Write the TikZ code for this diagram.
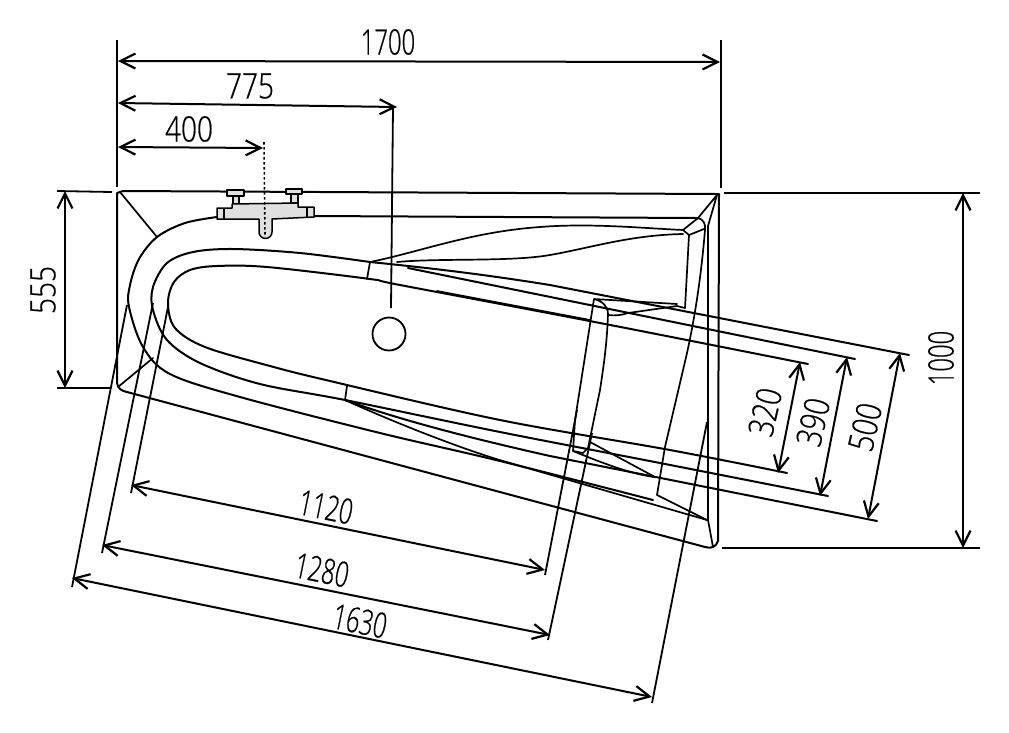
\documentclass[tikz,border=0pt]{standalone}
\usepackage{fontspec}
\usetikzlibrary{arrows.meta}
\newfontfamily\dimfont[FakeStretch=0.68,FakeBold=0.6]{Open Sans Light}
\newfontfamily\dimwide[FakeStretch=0.8,FakeBold=0.6]{Open Sans Light}
\tikzset{
	tub/.style={line width=1.7pt,line join=round,line cap=round},
	rimline/.style={tub,line width=2pt},
	extline/.style={line width=1.8pt},
	dimline/.style={line width=2pt,{Straight Barb[length=15pt,width=15pt,line width=2.2pt]}-{Straight Barb[length=15pt,width=15pt,line width=2.2pt]}},
	dimlabel/.style={inner sep=0pt,font=\dimfont\fontsize{35}{35}\selectfont},
	widelabel/.style={inner sep=0pt,font=\dimwide\fontsize{35}{35}\selectfont}
}
\begin{document}
\begin{tikzpicture}[x=1pt,y=-1pt]
	\useasboundingbox (0,0) rectangle (1009,732);
	% outline
	\draw[rimline] (117,193) -- (117,383) .. controls (118,389) and (122,391) .. (127,392) -- (705,547) .. controls (711,549) and (716,547) .. (718,541) -- (719,194) -- (716,194) -- (123,191) -- (117,193);
	\draw[tub] (120,192) -- (157,237);
	\draw[tub] (118,387) -- (153,358);
	% rim and basin
	\draw[rimline] plot[smooth,tension=0.55] coordinates {(217,217) (185,223) (157,237) (139,259) (130,285) (129,307) (143,347) (170,374) (240,397) (380,433) (500,461) (653,500)};
	\draw[rimline] (314,216) -- (697,218);
	\draw[rimline] plot[smooth,tension=0.55] coordinates {(370,262) (300,253) (233,249) (193,252) (167,263) (153,287) (153,310) (167,340) (200,363) (260,384) (345,400) (500,432) (660,463) (828,496)};
	\draw[rimline] plot[smooth,tension=0.55] coordinates {(808,364) (600,323) (400,285) (370,279) (267,267) (217,266) (190,270) (174,282) (168,303) (175,328) (205,347) (270,366) (330,381) (500,420) (670,450) (787,473)};
	\draw[tub] (370,262) -- (367,279);
	\draw[tub] (347,386) -- (345,400);
	\draw[rimline] (370,262) .. controls (450,270) and (500,277) .. (550,285) -- (909,355);
	\draw[rimline] (408,268) -- (855,359);
	\draw[tub] (437,291) -- (590,320);
	% upper end
	\draw[tub] (370,262) .. controls (420,252) and (470,232) .. (540,227) .. controls (590,223) and (640,228) .. (683,230);
	\draw[tub] (397,262) .. controls (440,258) and (510,262) .. (550,255) .. controls (590,248) and (630,235) .. (683,234);
	\draw[tub] (683,230) -- (698,218) .. controls (703,219) and (706,224) .. (705,230) .. controls (700,290) and (692,330) .. (687,353) -- (665,447) -- (657,495) -- (707,520);
	\draw[tub] (683,230) -- (689,235) -- (704,229);
	\draw[tub] (689,235) -- (685,308) -- (677,306);
	\draw[tub] (698,218) -- (717,195) -- (708,226) -- (708,520) -- (713,547);
	% cross band
	\draw[tub] (677,304) -- (594,299) .. controls (602,301) and (608,306) .. (608,314) .. controls (607,345) and (603,370) .. (600,390) -- (588,448) -- (583,453) -- (573,451) -- (575,420) -- (594,299);
	\draw[tub] (608,315) .. controls (615,316) and (622,315) .. (628,313) -- (677,306);
	\draw[tub] (590,442) -- (655,477) .. controls (630,474) and (600,462) .. (573,451);
	% lower wedge
	\draw[tub] (345,400) .. controls (400,425) and (470,452) .. (510,463) -- (707,520);
	\draw[rimline] (345,400) .. controls (400,420) and (470,438) .. (550,456) -- (877,521);
	% taps
	\begin{scope}[line width=1.5pt,fill=black!12,draw=black,line join=round]
		\filldraw (233,196) rectangle (239,204);
		\filldraw (291,194) rectangle (298,203);
		\filldraw (227,190) rectangle (244,196);
		\filldraw (286,189) rectangle (302,194);
		\filldraw (217,208) -- (232,208) -- (232,204) -- (298,203) -- (298,207) -- (314,207) -- (314,217) -- (272,219) -- (272,232) arc[start angle=0,end angle=-180,radius=6.5pt] -- (259,219) -- (217,219) -- cycle;
		\draw (224,208) -- (224,219);
		\draw (307,207) -- (307,217);
	\end{scope}
	\draw[line width=1.6pt,dash pattern=on 2.5pt off 2.5pt] (264,142) -- (265,237);
	% drain
	\node[draw,circle,line width=1.8pt,minimum size=33pt,inner sep=0pt] (drain) at (389,334) {};
	% extension lines
	\coordinate (widthL) at (117,40);
	\coordinate (widthR) at (721,40);
	\draw[extline] (widthL) -- (117,187);
	\draw[extline] (widthR) -- (721,188);
	\draw[extline] (393,107) -- (391,308);
	\draw[extline] (57,191) -- (112,192);
	\draw[extline] (57,388) -- (110,388);
	\draw[extline] (724,193) -- (980,193);
	\draw[extline] (722,548) -- (980,548);
	\draw[extline] (168,307) -- (131,493);
	\draw[extline] (577,410) -- (545,575);
	\draw[extline] (153,303) -- (102,553);
	\draw[extline] (592,433) -- (548,640);
	\draw[extline] (127,305) -- (72,587);
	\draw[extline] (707,422) -- (652,703);
	% dimensions
	\draw[dimline] (118,61) -- (720,62);
	\draw[dimline] (118,103) -- (397,107);
	\draw[dimline] (118,147) -- (263,148);
	\draw[dimline] (65,191) -- (65,388);
	\draw[dimline] (963,193) -- (963,548);
	\draw[dimline] (131,485) -- (545,570);
	\draw[dimline] (102,545) -- (550,635);
	\draw[dimline] (72,578) -- (652,697);
	\draw[dimline] (800,362) -- (778,473);
	\draw[dimline] (847,357) -- (820,496);
	\draw[dimline] (900,353) -- (868,519);
	% labels
	\node[dimlabel] (l1700) at (388,42) {1700};
	\node[widelabel] (l775) at (250,86) {775};
	\node[widelabel] (l400) at (189,129) {400};
	\node[widelabel,rotate=90] (l555) at (43,290) {555};
	\node[dimlabel,rotate=90] (l1000) at (941,358) {1000};
	\node[dimlabel,rotate=-11.5] (l1120) at (326,507) {1120};
	\node[dimlabel,rotate=-11.5] (l1280) at (322,570) {1280};
	\node[dimlabel,rotate=-11.5] (l1630) at (360,621) {1630};
	\node[widelabel,rotate=77] (l320) at (765,412) {320};
	\node[widelabel,rotate=77] (l390) at (813,422) {390};
	\node[widelabel,rotate=77] (l500) at (865,427) {500};
\end{tikzpicture}
\end{document}
